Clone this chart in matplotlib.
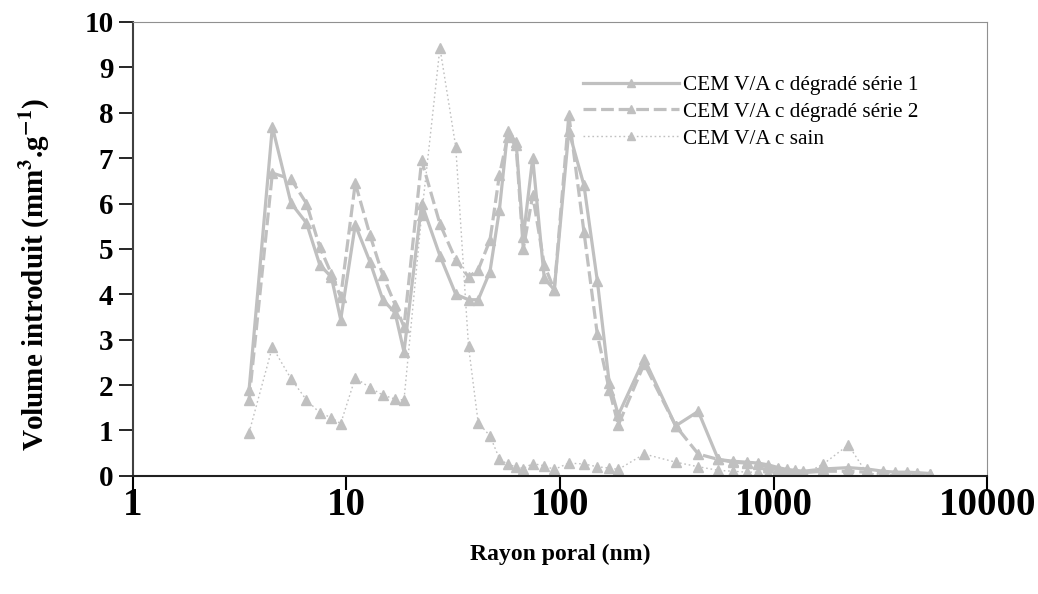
import matplotlib
matplotlib.use("Agg")
import matplotlib.pyplot as plt
import numpy as np

# pore radius (nm), shared by the three series
rayon = [3.5, 4.5, 5.5, 6.5, 7.5, 8.5, 9.4, 11.0, 12.9, 14.8, 16.9, 18.6,
         22.5, 27.4, 32.5, 37.3, 41.4, 47.0, 52.0, 56.9, 62.3, 67.3, 74.5,
         84.4, 94.0, 110, 129.5, 149.5, 170, 187.5, 248, 348, 444, 551,
         648, 748, 849, 946, 1052, 1153, 1262, 1380, 1711, 2240, 2734,
         3266, 3707, 4206, 4688, 5410]

serie1 = [1.89, 7.69, 6.01, 5.57, 4.65, 4.38, 3.44, 5.53, 4.71, 3.88, 3.59, 2.73,
          6.0, 4.85, 4.0, 3.88, 3.88, 4.5, 5.85, 7.6, 7.35, 5.26, 7.0,
          4.35, 4.1, 7.6, 6.4, 4.3, 2.05, 1.34, 2.58, 1.1, 1.42, 0.36,
          0.32, 0.3, 0.28, 0.24, 0.18, 0.14, 0.12, 0.1, 0.15, 0.18, 0.15,
          0.1, 0.08, 0.08, 0.07, 0.05]

serie2 = [1.67, 6.67, 6.54, 6.0, 5.04, 4.45, 3.94, 6.45, 5.3, 4.42, 3.77, 3.28,
          6.95, 5.55, 4.76, 4.38, 4.54, 5.19, 6.62, 7.47, 7.28, 5.0, 6.18,
          4.65, 4.1, 7.95, 5.37, 3.12, 1.9, 1.12, 2.47, 1.1, 0.48, 0.36,
          0.3, 0.28, 0.25, 0.2, 0.14, 0.1, 0.08, 0.07, 0.1, 0.1, 0.08,
          0.06, 0.05, 0.05, 0.05, 0.04]

sain = [0.95, 2.84, 2.14, 1.67, 1.39, 1.28, 1.15, 2.16, 1.94, 1.78, 1.69, 1.67,
        5.75, 9.43, 7.25, 2.85, 1.17, 0.88, 0.38, 0.25, 0.2, 0.16, 0.27,
        0.22, 0.14, 0.28, 0.26, 0.2, 0.17, 0.14, 0.48, 0.3, 0.2, 0.12,
        0.1, 0.08, 0.08, 0.06, 0.05, 0.04, 0.03, 0.03, 0.26, 0.68, 0.05,
        0.03, 0.02, 0.02, 0.02, 0.02]

labels = ["CEM V/A c dégradé série 1", "CEM V/A c dégradé série 2", "CEM V/A c sain"]
gris = "#c0c0c0"

plt.rcParams['font.family'] = ['Liberation Serif', 'DejaVu Serif']
plt.rcParams['mathtext.fontset'] = 'stix'

fig = plt.figure(figsize=(10.38, 5.94), dpi=100)
ax = fig.add_axes([0.128, 0.199, 0.823, 0.764])

# plot the three curves
ax.plot(rayon, serie1, color=gris, lw=2.3, ls='-', marker='^', ms=6.5,
        label=labels[0])
ax.plot(rayon, serie2, color=gris, lw=2.3, ls=(0, (4, 1.5)), marker='^', ms=6.5,
        label=labels[1])
ax.plot(rayon, sain, color=gris, lw=1.0, ls=(0, (1.2, 2)), marker='^', ms=6.5,
        label=labels[2])

# scale the axes
ax.set_xscale('log')
ax.set_xlim(1, 10000)
ax.set_ylim(0, 10)
ax.set_xticks([1, 10, 100, 1000, 10000])
ax.set_xticklabels(['1', '10', '100', '1000', '10000'])
ax.xaxis.set_minor_locator(matplotlib.ticker.NullLocator())
ax.set_yticks(np.arange(0, 11, 1))

ax.tick_params(axis='x', direction='out', length=10, width=1.5, pad=-2,
               labelsize=28)
ax.tick_params(axis='y', direction='out', length=10, width=1.2, pad=4,
               labelsize=21)
for lab in ax.get_xticklabels() + ax.get_yticklabels():
    lab.set_fontweight('bold')

# frame
ax.spines['left'].set_color('#404040')
ax.spines['bottom'].set_color('#202020')
ax.spines['left'].set_linewidth(1.5)
ax.spines['bottom'].set_linewidth(1.5)
ax.spines['top'].set_color('#909090')
ax.spines['right'].set_color('#909090')

ax.set_xlabel("Rayon poral (nm)", fontsize=17, fontweight='bold', labelpad=14)
ax.set_ylabel(r"Volume introduit (mm$^{\mathbf{3}}$.g$^{\mathbf{-1}}$)",
              fontsize=21, fontweight='bold')
ax.yaxis.set_label_coords(-0.095, 0.443)

ax.legend(loc='upper left', bbox_to_anchor=(0.505, 0.925), frameon=False,
          fontsize=15.3, handlelength=4.5, handletextpad=0.2, labelspacing=0.33,
          markerscale=0.8)

fig.savefig("out.png", dpi=100)
